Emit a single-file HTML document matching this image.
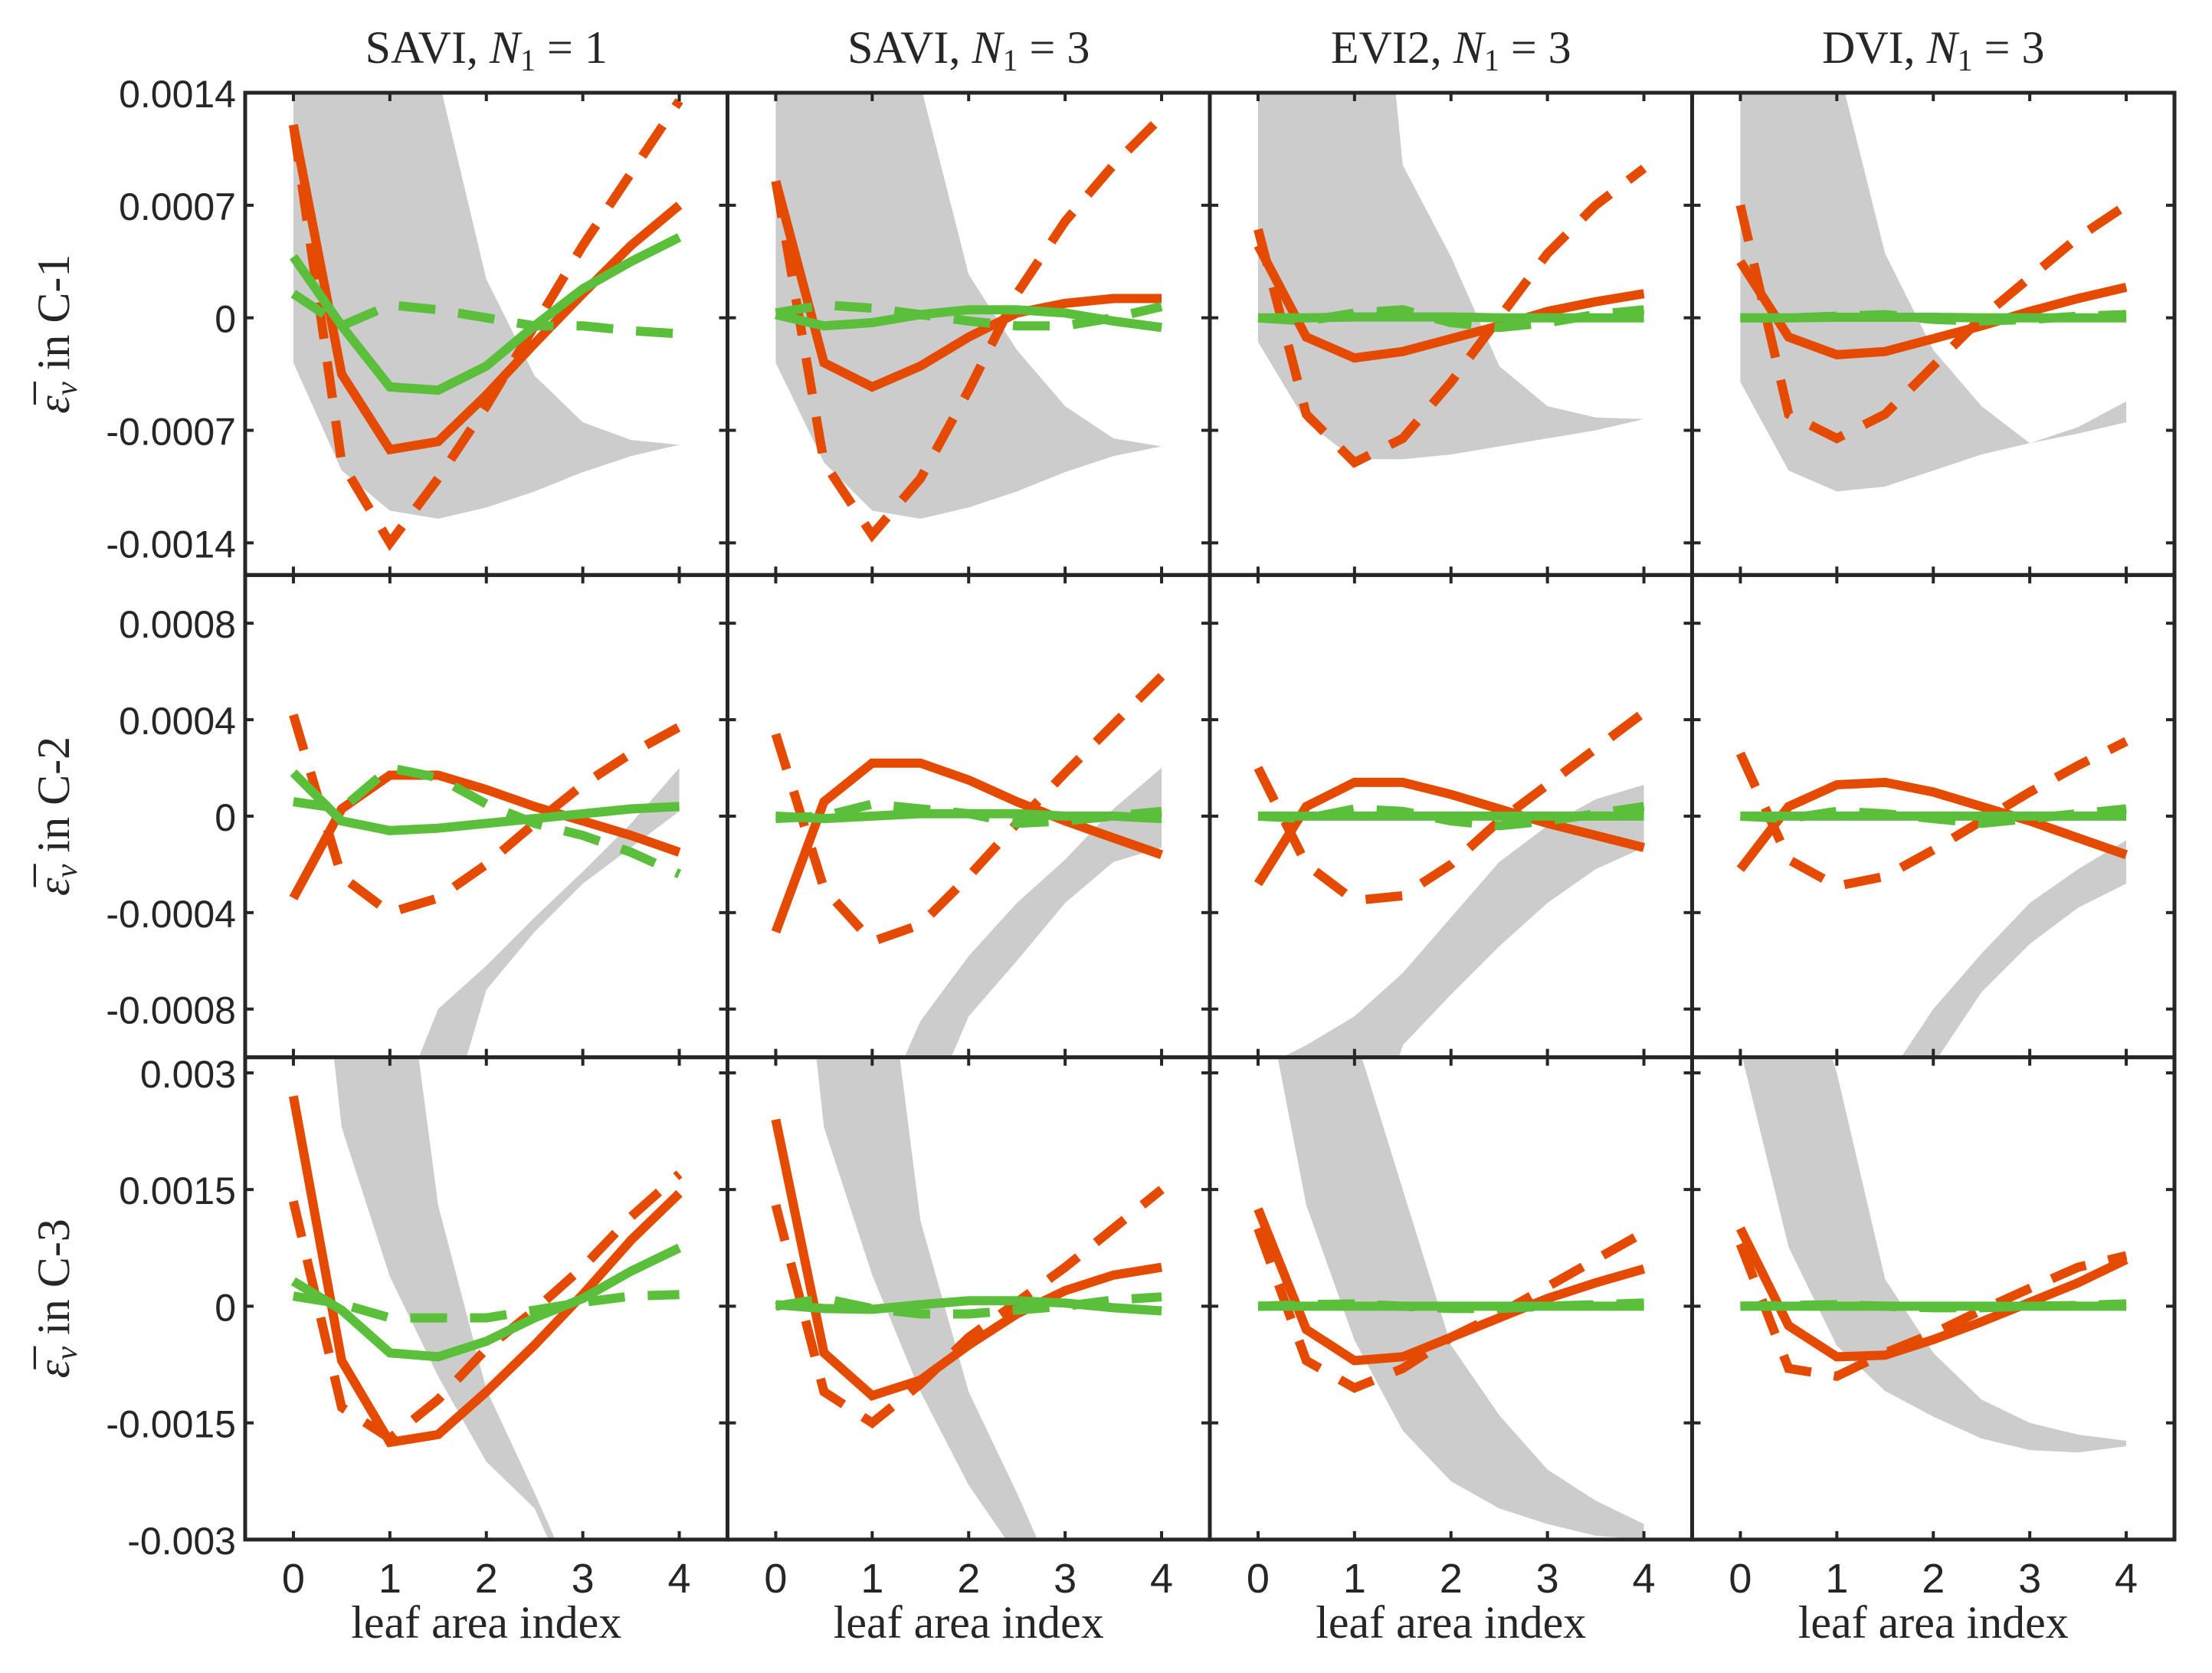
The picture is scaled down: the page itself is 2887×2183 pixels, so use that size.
<!DOCTYPE html>
<html><head><meta charset="utf-8"><style>
html,body{margin:0;padding:0;background:#fff;}
svg{display:block;}
</style></head><body>
<svg id="fig" xmlns="http://www.w3.org/2000/svg" width="2887" height="2183" viewBox="0 0 2887 2183"></svg>
<script>
// x values (leaf area index)
const lai = [0,0.5,1,1.5,2,2.5,3,3.5,4];
const colTitles = ["SAVI","SAVI","EVI2","DVI"];
const colN = ["1","3","3","3"];
const rowNames = ["C-1","C-2","C-3"];
const xTicks = [0,1,2,3,4];
// values in units of 1e-4
const yLims = [[-16,14],[-10,10],[-30,32]];
const yTickVals = [[-14,-7,0,7,14],[-8,-4,0,4,8],[-30,-15,0,15,30]];
const yTickLabels = [["-0.0014","-0.0007","0","0.0007","0.0014"],["-0.0008","-0.0004","0","0.0004","0.0008"],["-0.003","-0.0015","0","0.0015","0.003"]];
// panels ordered row-major
const redSolid = [
 [12,-3.5,-8.2,-7.7,-4.8,-1.6,1.5,4.5,7.0],
 [8.5,-2.8,-4.3,-3,-1.2,0.3,0.9,1.2,1.2],
 [4.5,-1.2,-2.5,-2.1,-1.3,-0.5,0.4,1.0,1.5],
 [3.5,-1.2,-2.3,-2.1,-1.3,-0.5,0.4,1.2,1.9],
 [-3.4,0.3,1.7,1.7,1.1,0.4,-0.2,-0.8,-1.5],
 [-4.8,0.6,2.2,2.2,1.5,0.6,-0.2,-0.9,-1.6],
 [-2.8,0.4,1.4,1.4,0.9,0.3,-0.3,-0.8,-1.3],
 [-2.2,0.4,1.3,1.4,1.0,0.4,-0.2,-0.9,-1.6],
 [27,-7,-17.5,-16.5,-11,-5,1.5,8.5,14.5],
 [24,-6,-11.5,-9.5,-5,-1,2,4,5],
 [12.5,-3,-7,-6.5,-4,-1.5,1,3,4.8],
 [10,-2.5,-6.5,-6.3,-4.3,-2,0.5,3,6]
];
const redDashed = [
 [12,-9,-14,-10,-5.5,-0.5,4.5,9,13.5],
 [8.5,-9,-13.5,-10,-4.5,1.5,6,9.5,12.5],
 [5.5,-6,-9,-7.5,-4,0,4,7,9.3],
 [7,-6,-7.5,-6,-3,0,2.5,5,7],
 [4.2,-2.5,-4,-3.4,-2,-0.3,1.3,2.6,3.7],
 [3.4,-3,-5.2,-4.5,-2.5,-0.3,1.8,3.8,5.8],
 [2.0,-2.0,-3.5,-3.3,-2.0,-0.2,1.3,2.8,4.3],
 [2.6,-1.8,-2.9,-2.5,-1.4,-0.2,1.0,2.1,3.1],
 [13.5,-13,-17,-12,-5.5,-0.5,5,11.5,17],
 [13,-11,-15,-10,-4,0.5,5,10,15],
 [10,-7,-10.5,-8,-4,-1,2.5,6,9.5],
 [8,-8,-9,-6,-3.5,-0.5,2.3,5,6.5]
];
const greenSolid = [
 [3.8,-0.5,-4.3,-4.5,-3,-0.5,1.8,3.5,5],
 [0.2,-0.5,-0.3,0.2,0.5,0.5,0.3,-0.2,-0.6],
 [0,0,0.05,0.05,0.05,0,0,0,0],
 [0,0,0.03,0.03,0.03,0,0,0,0],
 [1.8,-0.2,-0.6,-0.5,-0.3,-0.1,0.1,0.3,0.4],
 [0,-0.1,0,0.1,0.1,0.1,0,0,-0.1],
 [0,0,0,0,0,0,0,0,0],
 [0,0,0,0,0,0,0,0,0],
 [3.2,-0.5,-6,-6.5,-4.5,-1.5,1,4.5,7.5],
 [0.2,-0.3,-0.4,0.2,0.7,0.7,0.4,-0.2,-0.6],
 [0,0,0,0,0,0,0,0,0],
 [0,0,0,0,0,0,0,0,0]
];
const greenDashed = [
 [1.5,-0.5,0.8,0.5,0,-0.5,-0.5,-0.8,-1.0],
 [0.3,0.8,0.6,0.2,-0.2,-0.5,-0.5,0,0.7],
 [0,-0.2,0.3,0.5,-0.3,-0.6,-0.3,0.2,0.5],
 [0,0,0.1,0.2,-0.1,-0.2,-0.1,0.1,0.2],
 [0.6,0.3,2.0,1.6,0.5,-0.3,-0.8,-1.5,-2.4],
 [-0.1,0,0.5,0.3,0.1,-0.3,-0.2,0,0.2],
 [0,-0.1,0.3,0.2,-0.2,-0.4,-0.2,0.1,0.4],
 [0,-0.1,0.2,0.1,-0.1,-0.3,-0.1,0.1,0.3],
 [1.3,0.3,-1.5,-1.5,-1.5,-0.5,0.5,1.3,1.5],
 [0,1,-0.3,-1,-1,-0.5,0,0.8,1.2],
 [0,0.2,0.3,0,-0.3,-0.3,0,0.2,0.4],
 [0,0.1,0.2,0,-0.2,-0.2,0,0.1,0.3]
];
const bandUpper = [
 [40,40,40,15,2.4,-3.6,-6.5,-7.6,-7.9],
 [40,40,40,14.5,2.7,-2,-5.5,-7.5,-8],
 [40,40,40,9.5,3.8,-3,-5.5,-6.2,-6.3],
 [40,40,16,4,-2,-5.5,-7.8,-6.8,-5.2],
 [-30,-25,-13,-8,-6.2,-4.2,-2.3,-0.3,2.0],
 [-30,-25,-13,-8.5,-5.8,-3.6,-1.8,0.3,2.0],
 [-10.5,-9.5,-8.3,-6.5,-4.2,-1.9,-0.4,0.7,1.3],
 [-30,-30,-20,-11,-8,-5.7,-3.6,-2.2,-1.0],
 [60,60,60,13,-10.7,-24,-38,-40,-40],
 [60,60,60,11,-11,-24,-38,-40,-40],
 [60,50,35,15,-5,-14,-21,-25,-28],
 [60,50,30,3.5,-6,-12,-15,-16.5,-17.3]
];
const bandLower = [
 [-2.8,-9.5,-12,-12.5,-11.8,-10.8,-9.6,-8.6,-7.9],
 [-2.8,-9,-12,-12.5,-11.8,-10.8,-9.6,-8.6,-8],
 [-1.5,-6.5,-8.8,-8.8,-8.5,-8,-7.5,-7,-6.3],
 [-4,-9.5,-10.8,-10.5,-9.5,-8.5,-7.8,-7.2,-6.5],
 [-30,-30,-30,-14,-7.2,-4.8,-2.8,-1.3,0.2],
 [-30,-30,-30,-13,-8.3,-6,-3.6,-1.9,-1.3],
 [-30,-30,-16,-9.5,-7.4,-5.4,-3.6,-2.2,-1.3],
 [-30,-30,-30,-20,-10.3,-7.3,-5.3,-3.8,-2.8],
 [79,23,3.8,-9,-20,-26,-40,-40,-40],
 [80,23,4,-11,-23,-32,-40,-40,-40],
 [45,13,-4.4,-16,-22.5,-26,-28,-29.5,-30],
 [33,7.6,-5.1,-10.9,-14.2,-17,-18.5,-18.8,-18]
];

const NS = "http://www.w3.org/2000/svg";
const svg = document.getElementById('fig');
const L0 = 320, T0 = 121, PW = 629.5, PH = 629.3;
const XMIN = -0.5, XMAX = 4.5;
const RED = "#e54b00", GREEN = "#5bbf3b", GRAY = "#cccccc", INK = "#262626";
function mk(tag, attrs, parent) {
  const e = document.createElementNS(NS, tag);
  for (const k in attrs) e.setAttribute(k, attrs[k]);
  (parent || svg).appendChild(e);
  return e;
}
const defs = mk('defs', {});

for (let r = 0; r < 3; r++) {
  for (let c = 0; c < 4; c++) {
    const p = r * 4 + c;
    const left = L0 + c * PW, top = T0 + r * PH;
    const [ymin, ymax] = yLims[r];
    const xs = v => left + (v - XMIN) / (XMAX - XMIN) * PW;
    const ys = v => top + (ymax - v) / (ymax - ymin) * PH;
    const cp = mk('clipPath', {id: 'clip' + p}, defs);
    mk('rect', {x: left, y: top, width: PW, height: PH}, cp);
    const g = mk('g', {'clip-path': 'url(#clip' + p + ')'});
    
    
    let pts = lai.map((x, i) => xs(x) + ',' + ys(bandUpper[p][i]));
    for (let i = lai.length - 1; i >= 0; i--) pts.push(xs(lai[i]) + ',' + ys(bandLower[p][i]));
    const band = mk('polygon', {points: pts.join(' '), fill: GRAY}, g);
    
    
    const series = [
      [redDashed, RED, true, 'red-dashed-line'],
      [redSolid, RED, false, 'red-solid-line'],
      [greenDashed, GREEN, true, 'green-dashed-line'],
      [greenSolid, GREEN, false, 'green-solid-line']
    ];
    for (const [arr, col, dash, nm] of series) {
      const d = lai.map((x, i) => xs(x).toFixed(1) + ',' + ys(arr[p][i]).toFixed(1)).join(' ');
      const a = {points: d, fill: 'none', stroke: col, 'stroke-width': 12, 'stroke-linejoin': 'miter'};
      if (dash) a['stroke-dasharray'] = '48 30';
      const pl = mk('polyline', a, g);
      
      
    }
    const tg = mk('g', {stroke: INK, 'stroke-width': 4});
    
    
    for (const t of xTicks) {
      mk('line', {x1: xs(t), x2: xs(t), y1: top + PH, y2: top + PH - 11}, tg);
      mk('line', {x1: xs(t), x2: xs(t), y1: top, y2: top + 11}, tg);
    }
    for (const t of yTickVals[r]) {
      mk('line', {x1: left, x2: left + 11, y1: ys(t), y2: ys(t)}, tg);
      mk('line', {x1: left + PW, x2: left + PW - 11, y1: ys(t), y2: ys(t)}, tg);
    }
    const fr = mk('rect', {x: left, y: top, width: PW, height: PH, fill: 'none', stroke: INK, 'stroke-width': 5});
    
    
    if (c === 0) {
      yTickVals[r].forEach((t, i) => {
        const tx = mk('text', {x: 308, y: ys(t) + 19, 'text-anchor': 'end', 'font-family': 'Liberation Sans, sans-serif', 'font-size': 50, fill: INK});
        tx.textContent = yTickLabels[r][i];
        
        
      });
      const yl = mk('text', {x: 0, y: 0, transform: 'translate(90,' + (top + PH / 2) + ') rotate(-90)', 'text-anchor': 'middle', 'font-family': 'Liberation Serif, DejaVu Serif, serif', 'font-size': 60, fill: INK});
      yl.innerHTML = '<tspan font-style="italic">ε̅</tspan><tspan font-style="italic" font-size="40" dy="10">v</tspan><tspan dy="-10"> in ' + rowNames[r] + '</tspan>';
      
      
    }
    if (r === 0) {
      const tt = mk('text', {x: left + PW / 2, y: 82, 'text-anchor': 'middle', 'font-family': 'Liberation Serif, serif', 'font-size': 60, fill: INK});
      tt.innerHTML = colTitles[c] + ', <tspan font-style="italic">N</tspan><tspan font-size="40" dy="10">1</tspan><tspan dy="-10"> = ' + colN[c] + '</tspan>';
      
      
    }
    if (r === 2) {
      for (const t of xTicks) {
        const tx = mk('text', {x: xs(t), y: 2078, 'text-anchor': 'middle', 'font-family': 'Liberation Sans, sans-serif', 'font-size': 54, fill: INK});
        tx.textContent = t;
        
        
      }
      const xl = mk('text', {x: left + PW / 2, y: 2137, 'text-anchor': 'middle', 'font-family': 'Liberation Serif, serif', 'font-size': 60, fill: INK});
      xl.textContent = 'leaf area index';
      
      
    }
  }
}
</script>
</body></html>
